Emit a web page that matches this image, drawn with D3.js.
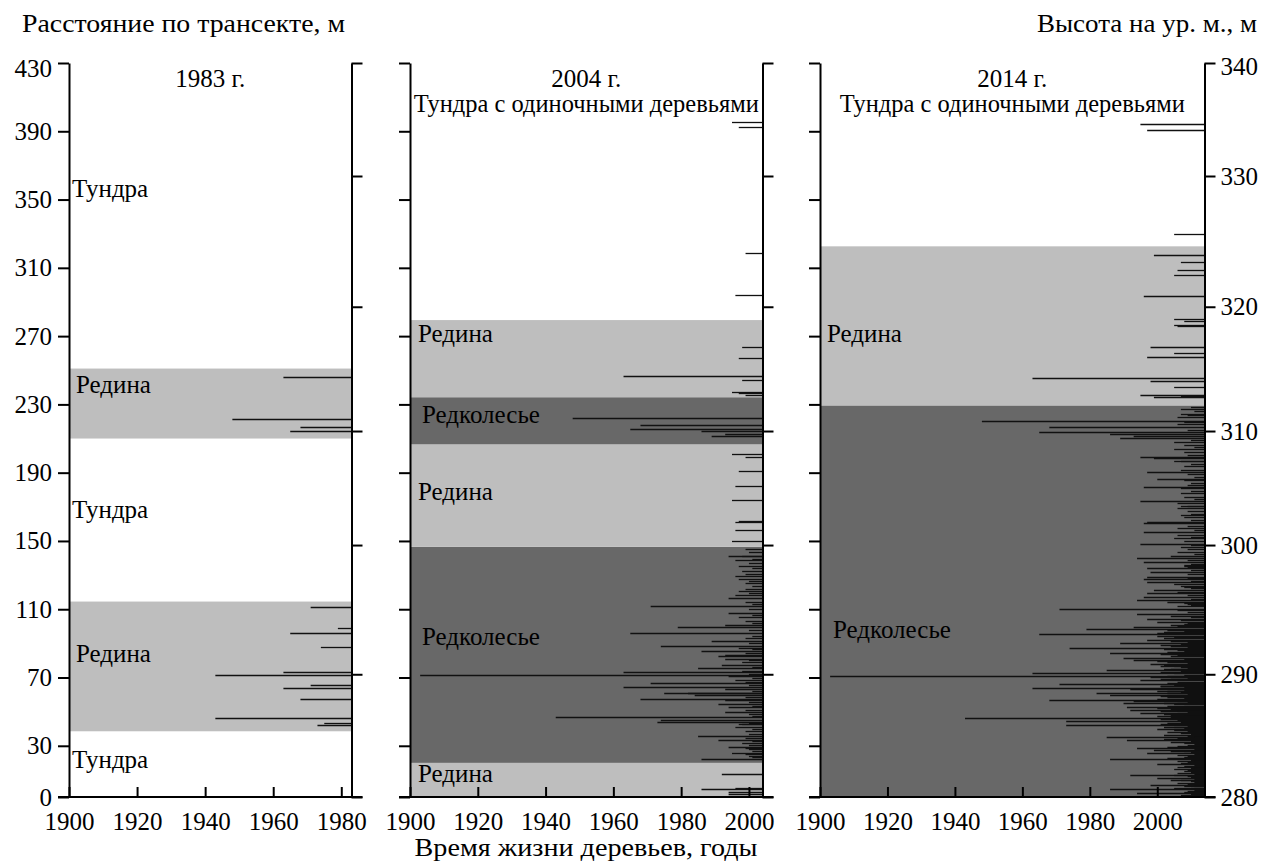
<!DOCTYPE html>
<html>
<head>
<meta charset="utf-8">
<script src="https://cdn.jsdelivr.net/npm/d3@7"></script>
<style>
  body { margin: 0; background: #fff; }
</style>
</head>
<body>
<svg class="graph"></svg>
<script>
// distance along transect (m) -> tree birth year
const trees1983 = [
  [245.9, 1963], [221.3, 1948], [217, 1968], [214.6, 1965],
  [111.1, 1971], [98.8, 1979], [95.9, 1965], [88, 1974], [73, 1963], [71.3, 1943],
  [65.8, 1971], [64, 1963], [57.2, 1968], [46.3, 1943], [43.5, 1975], [42, 1973]
];

const trees2004 = [
  [395.6, 1995], [392.7, 1997], [318.5, 1999], [294, 1996], [263.8, 1998], [257.4, 1997],
  [246.4, 1963], [244.5, 1998], [237.4, 1995], [236.8, 1997], [235.7, 1999],
  [221.8, 1948], [217.8, 1968], [215.4, 1965], [214.4, 1986], [212.5, 1993], [211.3, 1989],
  [200.8, 1995], [199.4, 1999], [190.8, 1997], [182, 1996], [174, 1995], [161.8, 1997],
  [161.2, 1996], [156.2, 1996], [150, 1995],
  [145, 1999], [143.5, 2000], [141.4, 1994], [141, 1998], [139.7, 2001], [138.7, 1996],
  [137, 2000], [135.5, 1997], [133.9, 2001], [132.4, 1998], [130.8, 1999], [129.5, 1996],
  [127.5, 1997], [126.5, 2000], [125.5, 1999], [123.5, 2001], [122, 1999], [120.9, 1997],
  [119.6, 2000], [118.5, 1996], [116.4, 1994], [114, 1999], [112.8, 2001], [111.7, 1971],
  [110, 2000], [108, 1994], [106.5, 2001], [105.4, 1997], [103, 1999], [101.8, 2001],
  [100.9, 1993], [99.4, 1979], [97.8, 2000], [96.1, 1965], [94.5, 2001], [93.2, 1999],
  [91.2, 1989], [90, 2000], [88.6, 1974], [87.5, 1997], [86.5, 2001], [85.3, 1986],
  [84.3, 1999], [83.4, 1993], [82.6, 1991], [81, 1993], [80, 2000], [78.9, 1998],
  [77.2, 1992], [76.3, 2001], [75.4, 1985], [73.8, 1998], [73.4, 1963], [72.3, 2000],
  [71.5, 1903], [70.9, 1994], [69.7, 2001], [68.5, 1996], [67.5, 1999], [66.6, 1971],
  [65.4, 2000], [64.3, 1963], [63.1, 1993], [62.2, 2001], [61.1, 1982], [60.7, 1975],
  [59.9, 1984], [58.6, 1999], [57.4, 1968], [56.8, 1993], [55.5, 2000], [54.3, 1991],
  [53.4, 2001], [52.5, 1994], [51, 1999], [49.8, 1993], [48.5, 2000], [47.5, 2001],
  [46.7, 1943], [45.3, 1974], [44.1, 1973], [43.5, 2000], [42.8, 1997], [42.5, 1998],
  [41.2, 1996], [40, 2001], [38.5, 1999], [37, 2000], [35.7, 1985], [34.7, 1999],
  [33.6, 1991], [32.7, 2001], [31.8, 1998], [30.6, 2000], [29.5, 1994], [28.7, 1999],
  [28.2, 2000], [27.1, 2001], [26, 1995], [25, 1999], [24.2, 2000], [23.2, 2001], [22.1, 1986],
  [13.3, 1992], [5.4, 1996], [4.7, 1986], [3.1, 1994], [1.8, 1994]
];

const trees2014 = [
  [394, 1995], [391, 1997], [329.6, 2005], [317.5, 1999], [313.2, 2007], [309, 2006],
  [306, 2005], [293.3, 1996], [279.8, 2005], [279, 2008], [276.5, 2005], [276, 2006],
  [263.4, 1998], [260, 2005], [257.6, 1997], [245.5, 1963], [243.7, 1998], [240.2, 2005],
  [235.5, 1995], [235.2, 2007], [234.5, 1999],
  [228.5, 2010], [227.1, 2007], [226, 2011], [224.2, 2007], [223.8, 2009], [222.4, 2006],
  [220.3, 1948], [219.5, 2008], [218.3, 2006], [216.9, 1968], [215.2, 2009], [214, 1965],
  [212.8, 1986], [211.5, 1993], [210.5, 1989], [209.3, 2010], [208.2, 2005], [206.2, 2008],
  [205, 2011], [203.7, 2005], [201.9, 2008], [200.5, 2009], [199.4, 1995], [198.4, 1999],
  [197, 2007], [196.6, 2005], [195, 2010], [193.9, 2008], [191.6, 2007], [190.2, 1997],
  [189, 2009], [187.5, 2011], [186.1, 2000], [185.8, 2008], [184.1, 2010], [183, 2009],
  [181.8, 1996], [181.2, 2007], [179.5, 2010], [178.3, 2007], [176, 2008], [174.5, 2011],
  [173.2, 1995], [172, 2006], [170.6, 2007], [170.2, 2009], [169.5, 2006], [167.5, 2009],
  [166, 2010], [165, 2007], [163.9, 2008], [162.5, 2010], [161.3, 1997], [160.3, 1996],
  [158.8, 2009], [157.4, 2006], [156.5, 2011], [155.4, 1996], [153.5, 2006], [152.5, 2010],
  [151.6, 2005], [149.8, 2008], [148.2, 1995], [147.5, 2010], [146.3, 2007], [145, 2009],
  [143.7, 2006], [142.5, 2011], [141, 2004], [139.8, 1994], [138.6, 2009], [137.5, 1996],
  [136.7, 2010], [135.9, 2008], [135.4, 2008], [134.9, 2009], [134, 1997], [133, 2010],
  [131.6, 1998], [130.8, 2009], [129, 1997], [128.3, 2009], [127.7, 1996], [126.7, 2010],
  [125.8, 1997], [124.6, 2005], [123.8, 2007], [123.2, 2008], [122.4, 2010], [121.3, 1999],
  [120.2, 2006], [119.3, 1997], [118.2, 2009], [117, 1996], [116.2, 2010], [115.4, 1994],
  [114.5, 2003], [113.8, 2008], [113.2, 2009], [112.6, 2010], [111.9, 2006], [110.3, 1971],
  [109.3, 2006], [108.2, 2009], [107.1, 1994], [106.2, 2004], [105.3, 2010], [104.5, 1997],
  [103.6, 2007], [102.6, 2000], [101.8, 2009], [101.2, 2008], [100.5, 2004], [99.9, 2006],
  [99.4, 1993], [98.4, 1979], [97.6, 2003], [97.1, 2008], [96.6, 2002], [96, 2009],
  [95.8, 2000], [95.3, 1965], [94.6, 2000], [93.6, 2005], [93, 2002], [92, 1997],
  [91.2, 2004], [90.9, 2009], [90.4, 1989], [89.4, 2007], [88.8, 2001], [88.2, 2004],
  [87.8, 2009], [87.3, 1974], [86.9, 2002], [86.4, 2006], [85.5, 2008], [85, 2003],
  [84.5, 1986], [84, 2001], [83.4, 2009], [83, 2006], [82.4, 2004], [81.6, 1990],
  [81, 2008], [80.3, 1993], [79.8, 2000], [79.3, 2003], [78.6, 2009], [77.9, 1998],
  [77.4, 2002], [77, 2005], [76.5, 2001], [76, 2007], [75.7, 2009], [75.2, 2002],
  [74.8, 2004], [74.4, 1985], [73.6, 2007], [73.2, 2001], [72.8, 1963], [72.4, 2005],
  [71.6, 2008], [71.1, 1903], [70.7, 2003], [70.2, 1998], [69.8, 2009], [69.4, 2004],
  [68.9, 2001], [68.5, 1995], [67.5, 2006], [67, 2003], [66.6, 2009], [66, 1971],
  [65.7, 2005], [65.3, 2001], [64.9, 2001], [64.4, 2008], [63.7, 1963], [63.1, 1992],
  [62.7, 2008], [62.2, 2003], [61.9, 2000], [61.5, 2007], [61, 2003], [60.7, 1982],
  [60.2, 2009], [59.8, 1986], [59.4, 2001], [59, 2004], [58.5, 2003], [58, 2008],
  [57.5, 2000], [56.8, 1968], [56.4, 2006], [56, 1993], [55.6, 2009], [55.2, 1990],
  [54.8, 2002], [54.3, 2005], [53.6, 2008], [53.2, 2003], [52.9, 1991], [52.4, 2009],
  [52, 2000], [51.5, 2004], [51, 1992], [50.6, 2001], [50.2, 2006], [49.6, 2009],
  [49, 1995], [48.6, 2002], [48.2, 2004], [47.7, 2000], [47.2, 2008], [46.6, 2004],
  [46.1, 1943], [45.7, 2001], [45.2, 2006], [44.8, 2009], [44.3, 1973], [43.7, 2007],
  [43.2, 2003], [42.7, 2001], [42.2, 1973], [41.8, 2009], [41.3, 2005], [40.9, 2002],
  [40.4, 2008], [39.9, 2000], [39.4, 2005], [38.6, 2009], [38.1, 2003], [37.6, 2007],
  [37.1, 2010], [36.5, 2002], [36, 2009], [35.3, 1985], [34.9, 2011], [34.4, 2006],
  [33.9, 2002], [33.4, 1991], [32.9, 2010], [32.4, 2004], [31.5, 2008], [31, 2011],
  [30.5, 2009], [30, 2006], [29.5, 2003], [29, 2010], [28.5, 1994], [28, 2011],
  [27.8, 1999], [27.2, 2004], [26.7, 2008], [26.2, 2010], [25.6, 1997], [25.1, 2011],
  [24.6, 2006], [24.1, 2009], [23.5, 2008], [23, 2003], [22.3, 1986], [21.8, 2010],
  [21.3, 2006], [20.8, 2011], [20.3, 2009], [19.8, 2007], [19.3, 2000], [18.8, 2011],
  [18.3, 2008], [17.7, 2006], [17.2, 2010], [16.7, 2011], [16.2, 2005], [15.7, 2009],
  [15.2, 2008], [14.7, 2010], [14.2, 2006], [13.6, 2011], [13.1, 1992], [12.7, 2005],
  [12.3, 2009], [11.8, 2010], [11.3, 2000], [10.7, 2011], [10.2, 2007], [9.7, 2004],
  [9.2, 2010], [8.6, 2011], [8.1, 2006], [7.6, 2009], [7, 1998], [6.7, 2011],
  [6.2, 2008], [5.5, 2005], [5, 2010], [4.5, 1986], [4, 2011], [3.6, 2009],
  [3, 2008], [2.7, 2011], [2.2, 1994], [1.7, 2010], [1.2, 2007], [0.7, 2011]
];

// vegetation zones: [from, to, type]
const bands1983 = [[210, 251, 'Редина'], [38.5, 114.5, 'Редина']];
const bands2004 = [
  [0, 20, 'Редина'], [20, 146.6, 'Редколесье'], [146.6, 206.6, 'Редина'],
  [206.6, 234.2, 'Редколесье'], [234.2, 279.4, 'Редина']
];
const bands2014 = [[0, 229.4, 'Редколесье'], [229.4, 322.6, 'Редина']];

// zone captions: [distance of baseline, text]
const labels1983 = [[351.5, 'Тундра'], [236.7, 'Редина'], [163.4, 'Тундра'], [79.3, 'Редина'], [17, 'Тундра']];
const labels2004 = [[266.7, 'Редина'], [219.1, 'Редколесье'], [174, 'Редина'], [89, 'Редколесье'], [9, 'Редина']];
const labels2014 = [[266.7, 'Редина'], [93, 'Редколесье']];

const distTicks = [0, 30, 70, 110, 150, 190, 230, 270, 310, 350, 390, 430];
// elevation a.s.l. (m) -> distance along transect where it is reached
const elevLabels = [280, 290, 300, 310, 320, 330, 340];
const elevDist = [0, 71.9, 147.6, 214.4, 287.2, 363.8, 430];

const surveyYears = [1983, 2004, 2014];

const bandColor = { 'Редина': '#bebebe', 'Редколесье': '#686868' };

const FONT = 'Liberation Serif';
// rendered widths of the captions in the original figure (its typeface is a bit wider)
const textWidth = {
  'Расстояние по трансекте, м': 323,
  'Высота на ур. м., м': 220,
  'Время жизни деревьев, годы': 343,
  'Тундра с одиночными деревьями': 345
};

function addText(parent, str, xPos, yPos, anchor, size) {
  const t = parent.append('text')
    .attr('x', xPos)
    .attr('y', yPos)
    .attr('text-anchor', anchor)
    .attr('font-family', FONT)
    .attr('font-size', size)
    .attr('fill', '#000')
    .text(str);
  if (textWidth[str]) {
    t.attr('textLength', textWidth[str]).attr('lengthAdjust', 'spacingAndGlyphs');
  }
  return t;
}

function drawChart() {
  const width = 1261;
  const height = 863;
  const fontSize = 25;
  const svg = d3.select('.graph')
    .attr('width', width)
    .attr('height', height);

  const y = d3.scaleLinear().domain([0, 430]).range([797, 63]);

  const panels = [
    { left: 69, right: 351.5, end: surveyYears[0], trees: trees1983, bands: bands1983, labels: labels1983,
      xTicks: [1900, 1920, 1940, 1960, 1980], title: '1983 г.', sub: null, pad: { 'Тундра': 3, 'Редина': 7 } },
    { left: 410, right: 762.5, end: surveyYears[1], trees: trees2004, bands: bands2004, labels: labels2004,
      xTicks: [1900, 1920, 1940, 1960, 1980, 2000], title: '2004 г.', sub: 'Тундра с одиночными деревьями',
      pad: { 'Редина': 8, 'Редколесье': 12 } },
    { left: 820, right: 1204.5, end: surveyYears[2], trees: trees2014, bands: bands2014, labels: labels2014,
      xTicks: [1900, 1920, 1940, 1960, 1980, 2000], title: '2014 г.', sub: 'Тундра с одиночными деревьями',
      pad: { 'Редина': 7, 'Редколесье': 13 } }
  ];

  panels.forEach((p, i) => {
    const x = d3.scaleLinear().domain([1900, p.end]).range([p.left, p.right]);
    const g = svg.append('g');

    g.selectAll('rect.band')
      .data(p.bands)
      .enter()
      .append('rect')
      .attr('class', 'band')
      .attr('x', p.left)
      .attr('width', p.right - p.left)
      .attr('y', d => y(d[1]))
      .attr('height', d => y(d[0]) - y(d[1]))
      .attr('fill', d => bandColor[d[2]]);

    g.selectAll('line.tree')
      .data(p.trees)
      .enter()
      .append('line')
      .attr('class', 'tree')
      .attr('x1', d => Math.max(x(d[1]), p.left))
      .attr('x2', p.right)
      .attr('y1', d => Math.round(y(d[0])) + 0.5)
      .attr('y2', d => Math.round(y(d[0])) + 0.5)
      .attr('stroke', '#111')
      .attr('stroke-width', 1.3);

    p.labels.forEach(d => {
      addText(g, d[1], p.left + p.pad[d[1]], y(d[0]), 'start', fontSize);
    });

    addText(g, p.title, (p.left + p.right) / 2, 87, 'middle', fontSize);
    if (p.sub) {
      addText(g, p.sub, (p.left + p.right) / 2, 112, 'middle', fontSize);
    }

    // left distance axis
    const leftAxis = d3.axisLeft(y)
      .tickValues(distTicks)
      .tickSizeInner(11)
      .tickSizeOuter(0)
      .tickPadding(6)
      .tickFormat(i === 0 ? d3.format('d') : () => '');
    const la = g.append('g')
      .attr('transform', `translate(${p.left},0)`)
      .call(leftAxis);
    la.selectAll('text')
      .attr('dy', d => d === 430 ? '0.52em' : '0.32em');

    // right elevation axis
    const rightAxis = d3.axisRight(y)
      .tickValues(elevDist)
      .tickSizeInner(11)
      .tickSizeOuter(0)
      .tickPadding(5)
      .tickFormat(i === 2 ? (d, k) => elevLabels[k] : () => '');
    const ra = g.append('g')
      .attr('transform', `translate(${p.right},0)`)
      .call(rightAxis);
    ra.selectAll('text')
      .attr('dy', d => d === 430 ? '0.45em' : '0.32em');

    // bottom year axis, ticks inward
    const bottomAxis = d3.axisBottom(x)
      .tickValues(p.xTicks)
      .tickSizeInner(-10)
      .tickSizeOuter(0)
      .tickPadding(15)
      .tickFormat(d3.format('d'));
    const ba = g.append('g')
      .attr('transform', `translate(0,${y(0)})`)
      .call(bottomAxis);
    ba.select('.domain')
      .attr('d', `M${p.left - 11},0H${p.right + 11}`);

    [la, ra, ba].forEach(a => {
      a.attr('font-family', FONT).attr('font-size', fontSize);
      a.selectAll('text').attr('font-family', FONT).attr('font-size', fontSize).attr('fill', '#000');
      a.selectAll('.domain').attr('stroke', '#000').attr('stroke-width', 2);
      a.selectAll('.tick line').attr('stroke', '#000').attr('stroke-width', 2);
    });
  });

  addText(svg, 'Расстояние по трансекте, м', 22, 32, 'start', fontSize);
  addText(svg, 'Высота на ур. м., м', 1257, 32, 'end', fontSize);
  addText(svg, 'Время жизни деревьев, годы', 586, 856, 'middle', fontSize);
}

drawChart();
</script>
</body>
</html>
